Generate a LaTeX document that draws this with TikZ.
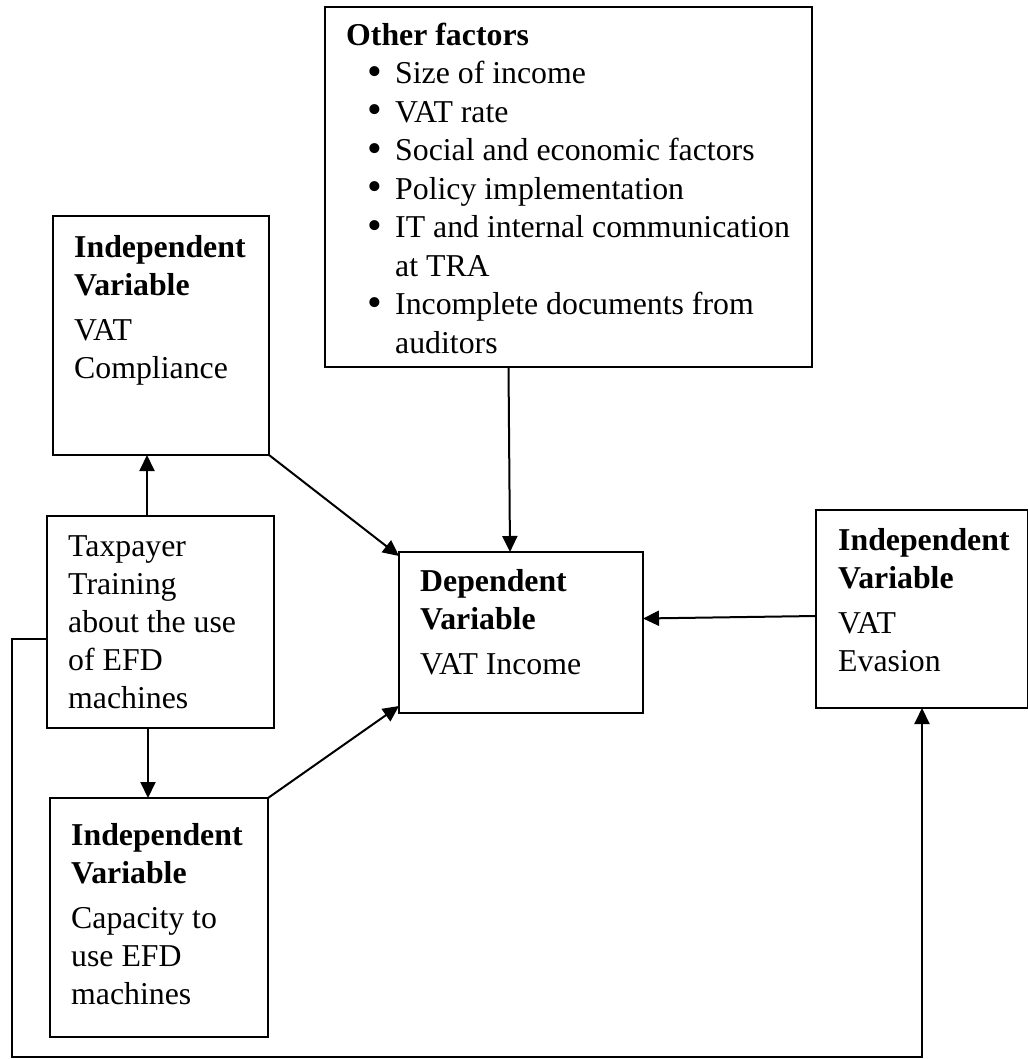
\documentclass[tikz,border=0pt]{standalone}
\usepackage{fontspec}
\setmainfont{Liberation Serif}
\usetikzlibrary{arrows.meta}
\newcommand{\bul}{\makebox[49pt][l]{\hspace{21pt}{\fontsize{42pt}{38.5pt}\selectfont\raisebox{-1.5pt}{•}}}}
\begin{document}
\begin{tikzpicture}[x=1pt,y=-1pt,
  box/.style={draw, line width=2pt, inner sep=0pt, outer sep=0pt, anchor=north west},
  txt/.style={anchor=north west, inner sep=0pt, align=left, font=\fontsize{31.8pt}{38pt}\selectfont},
  lst/.style={txt, font=\fontsize{31.8pt}{38.5pt}\selectfont},
  arr/.style={line width=2pt, -{Triangle[length=16pt,width=15pt]}}]
\useasboundingbox (0,0) rectangle (1027,1059);
% boxes
\node[box, minimum width=487pt, minimum height=360pt] (oth) at (325,7) {};
\node[box, minimum width=216pt, minimum height=239pt] (comp) at (53,216) {};
\node[box, minimum width=227pt, minimum height=212pt] (tax) at (47,516) {};
\node[box, minimum width=218pt, minimum height=239pt] (cap) at (50,798) {};
\node[box, minimum width=244pt, minimum height=161pt] (dep) at (399,552) {};
\node[box, minimum width=212pt, minimum height=198pt] (eva) at (816,510) {};
% texts
\node[lst] (otht) at (346,15) {\rule{0pt}{30pt}\textbf{Other factors}\\
\bul Size of income\\
\bul VAT rate\\
\bul Social and economic factors\\
\bul Policy implementation\\
\bul IT and internal communication\\
\makebox[49pt][l]{}at TRA\\
\bul Incomplete documents from\\
\makebox[49pt][l]{}auditors};
\node[txt] (compt) at (74,227) {\rule{0pt}{30pt}\textbf{Independent}\\\textbf{Variable}\\[7pt]VAT\\Compliance};
\node[txt] (taxt) at (68,526) {\rule{0pt}{30pt}Taxpayer\\Training\\about the use\\of EFD\\machines};
\node[txt] (capt) at (71,815) {\rule{0pt}{30pt}\textbf{Independent}\\\textbf{Variable}\\[7pt]Capacity to\\use EFD\\machines};
\node[txt] (dept) at (420,561) {\rule{0pt}{30pt}\textbf{Dependent}\\\textbf{Variable}\\[7pt]VAT Income};
\node[txt] (evat) at (838,520) {\rule{0pt}{30pt}\textbf{Independent}\\\textbf{Variable}\\[7pt]VAT\\Evasion};
% connectors
\draw[arr] ([xshift=-13.5pt]tax.north) -- ([xshift=-13.5pt]tax.north |- comp.south);
\draw[arr] ([xshift=-12.5pt]tax.south) -- ([xshift=-12.5pt]tax.south |- cap.north);
\draw[arr] (comp.south east) -- ([yshift=-4pt]dep.north west);
\draw[arr] (cap.north east) -- ([yshift=7pt]dep.south west);
\draw[arr] ([xshift=-60pt]oth.south) -- ([xshift=-11pt]dep.north);
\draw[arr] ([yshift=-7pt]eva.west) -- ([yshift=14pt]dep.east);
\coordinate (lp) at (12,1057);
\draw[arr] ([yshift=-17pt]tax.west) -| (lp) -| (eva.south);
\end{tikzpicture}
\end{document}
